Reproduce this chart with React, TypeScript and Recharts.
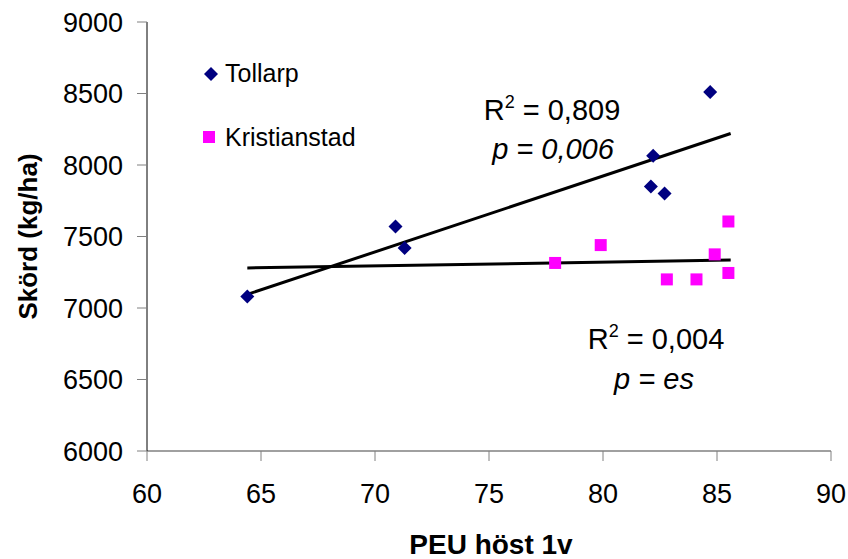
import React from 'react'
import { ScatterChart, Scatter, XAxis, YAxis, ReferenceLine } from 'recharts'

const seriesNames = ['Tollarp', 'Kristianstad']

const tollarpX = [64.4, 70.9, 71.3, 82.2, 82.1, 82.7, 84.7]
const tollarpY = [7080, 7570, 7420, 8065, 7850, 7800, 8510]

const kristX = [77.9, 79.9, 82.8, 84.1, 84.9, 85.5, 85.5]
const kristY = [7315, 7440, 7200, 7200, 7375, 7605, 7245]

// trendline end points
const trendTollarpX = [64.4, 85.6]
const trendTollarpY = [7095, 8220]
const trendKristX = [64.4, 85.6]
const trendKristY = [7280, 7335]

const xTicks = [60, 65, 70, 75, 80, 85, 90]
const yTicks = [6000, 6500, 7000, 7500, 8000, 8500, 9000]

const zip = (xs: number[], ys: number[]) => xs.map((x, i) => ({ x, y: ys[i] }))

const tollarp = zip(tollarpX, tollarpY)
const krist = zip(kristX, kristY)

const NAVY = '#000080'
const MAGENTA = '#FF00FF'
const FONT = '"Liberation Sans", Arial, sans-serif'

const Diamond = (p: any) => {
  const { cx, cy } = p
  const h = 7
  return <path d={`M${cx},${cy - h}L${cx + h},${cy}L${cx},${cy + h}L${cx - h},${cy}Z`} fill={NAVY} />
}

const Square = (p: any) => {
  const { cx, cy } = p
  const s = 6
  return <rect x={cx - s} y={cy - s} width={s * 2} height={s * 2} fill={MAGENTA} />
}

const YTitle = (p: any) => {
  const { x, y, height } = p.viewBox
  const cx = x + 28
  const cy = y + height / 2
  return (
    <text x={cx} y={cy} transform={`rotate(-90 ${cx} ${cy})`} textAnchor="middle" dy="0.35em"
      fontFamily={FONT} fontSize={26} fontWeight="bold" fill="#000">
      Skörd (kg/ha)
    </text>
  )
}

const XTitle = (p: any) => {
  const { x, width } = p.viewBox
  return (
    <text x={x + width / 2 + 2} y={554} textAnchor="middle"
      fontFamily={FONT} fontSize={28} fontWeight="bold" fill="#000">
      PEU höst 1v
    </text>
  )
}

const R2 = ({ x, y, value }: { x: number; y: number; value: string }) => (
  <text x={x} y={y} textAnchor="middle" fontFamily={FONT} fontSize={29} fill="#000">
    R<tspan dy={-12} fontSize={18}>2</tspan><tspan dy={12}>{' = ' + value}</tspan>
  </text>
)

export default function App() {
  return (
    <div style={{ position: 'absolute', left: 0, top: 0 }}>
      <ScatterChart width={848} height={559} margin={{ top: 22, right: 17, bottom: 0, left: 0 }}>
        <XAxis type="number" dataKey="x" domain={[60, 90]} ticks={xTicks} height={108}
          axisLine={{ stroke: '#808080', strokeWidth: 1.5 }} tickLine={{ stroke: '#808080' }}
          tickSize={10} tickMargin={23}
          tick={{ fill: '#000', fontSize: 27, fontFamily: FONT }}
          label={<XTitle />} />
        <YAxis type="number" dataKey="y" domain={[6000, 9000]} ticks={yTicks} width={147}
          axisLine={{ stroke: '#000' }} tickLine={{ stroke: '#808080' }}
          tickSize={10} tickMargin={14}
          tick={{ fill: '#000', fontSize: 27, fontFamily: FONT }}
          label={<YTitle />} />
        <Scatter name={seriesNames[0]} data={tollarp} shape={<Diamond />} isAnimationActive={false} />
        <Scatter name={seriesNames[1]} data={krist} shape={<Square />} isAnimationActive={false} />
        <ReferenceLine segment={zip(trendTollarpX, trendTollarpY)} stroke="#000" strokeWidth={3} />
        <ReferenceLine segment={zip(trendKristX, trendKristY)} stroke="#000" strokeWidth={3} />

        <R2 x={552} y={120} value="0,809" />
        <text x={553} y={159} textAnchor="middle" fontFamily={FONT} fontSize={29} fontStyle="italic">p = 0,006</text>
        <R2 x={656} y={349} value="0,004" />
        <text x={654} y={389} textAnchor="middle" fontFamily={FONT} fontSize={29} fontStyle="italic">p = es</text>

        <path d="M211,67L218,74L211,81L204,74Z" fill={NAVY} />
        <text x={225} y={82} fontFamily={FONT} fontSize={25}>{seriesNames[0]}</text>
        <rect x={203} y={131} width={12} height={12} fill={MAGENTA} />
        <text x={225} y={146} fontFamily={FONT} fontSize={25}>{seriesNames[1]}</text>
      </ScatterChart>
    </div>
  )
}
